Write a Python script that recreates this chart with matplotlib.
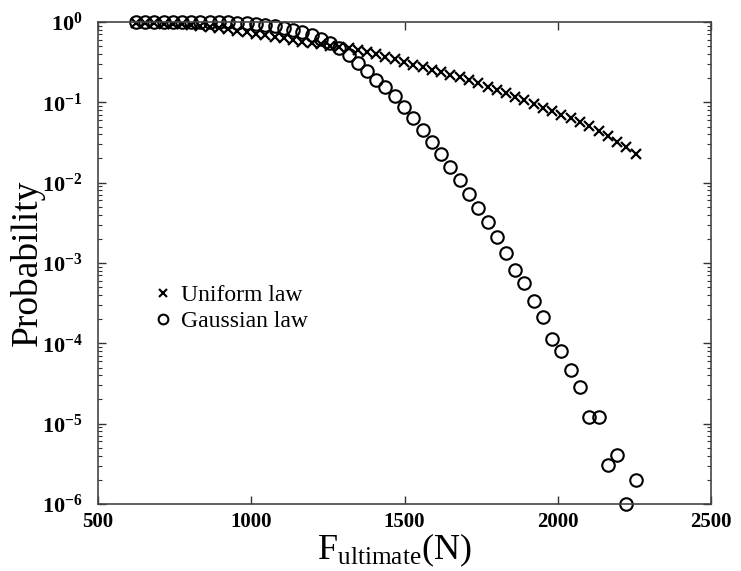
import numpy as np
import matplotlib
matplotlib.use("Agg")
import matplotlib.pyplot as plt
from matplotlib.lines import Line2D
from matplotlib.ticker import LogLocator, NullFormatter

plt.rcParams['font.family'] = ['Liberation Serif', 'DejaVu Serif']
plt.rcParams['mathtext.fontset'] = 'custom'
plt.rcParams['mathtext.rm'] = 'Liberation Serif'
plt.rcParams['mathtext.bf'] = 'Liberation Serif:bold'
plt.rcParams['mathtext.it'] = 'Liberation Serif:italic'

# ultimate force (N), common grid for both laws
force = [623, 653, 683, 714, 744, 774, 804, 834, 865, 895, 925, 955, 985,
         1016, 1046, 1076, 1106, 1136, 1167, 1197, 1227, 1257, 1287, 1318,
         1348, 1378, 1408, 1438, 1469, 1499, 1529, 1559, 1589, 1620, 1650,
         1680, 1710, 1740, 1771, 1801, 1831, 1861, 1891, 1922, 1952, 1982,
         2012, 2042, 2073, 2103, 2133, 2163, 2193, 2224, 2254]

p_uniform = [0.977, 0.973, 0.966, 0.955, 0.944, 0.933, 0.912, 0.891, 0.871,
             0.841, 0.813, 0.776, 0.741, 0.716, 0.684, 0.656, 0.631, 0.596,
             0.562, 0.543, 0.525, 0.507, 0.490, 0.473, 0.452, 0.422, 0.394,
             0.367, 0.343, 0.316, 0.295, 0.272, 0.254, 0.237, 0.221, 0.204,
             0.188, 0.172, 0.157, 0.141, 0.129, 0.117, 0.106, 0.0955, 0.0861,
             0.0776, 0.0700, 0.0631, 0.0562, 0.0501, 0.0437, 0.0380, 0.0324,
             0.0275, 0.0229]

p_gauss = [1.0, 1.0, 1.0, 1.0, 1.0, 1.0, 1.0, 1.0, 1.0, 0.99, 0.99, 0.98,
           0.97, 0.95, 0.92, 0.89, 0.85, 0.80, 0.75, 0.68, 0.62, 0.55, 0.47,
           0.39, 0.31, 0.245, 0.19, 0.155, 0.12, 0.087, 0.064, 0.045, 0.032,
           0.0227, 0.0156, 0.0108, 0.0072, 0.0048, 0.0032, 0.0021, 0.00132,
           0.00081, 0.00056, 0.00034, 2.1e-4, 1.12e-4, 8.0e-5, 4.6e-5,
           2.85e-5, 1.2e-5, 1.2e-5, 3.1e-6, 4.1e-6, 1.0e-6, 2.0e-6]

xticks = [500, 1000, 1500, 2000, 2500]
yexp = [0, -1, -2, -3, -4, -5, -6]

fig = plt.figure(figsize=(7.41, 5.71), dpi=100)
ax = fig.add_axes([98/741, 67/571, 613/741, 482/571])

ax.plot(force, p_uniform, 'x', color='k', ms=7.5, mew=1.6, clip_on=False)
ax.plot(force, p_gauss, 'o', mfc='none', mec='k', ms=9, mew=1.5, clip_on=False)

ax.set_yscale('log')
ax.set_xlim(500, 2500)
ax.set_ylim(1e-6, 1)

ax.set_xticks(xticks)
ax.set_xticklabels([str(v) for v in xticks], fontweight='bold', fontsize=15)
ax.set_yticks([10.0**e for e in yexp])
ax.set_yticklabels([r'$\mathbf{10^{%d}}$' % e for e in yexp], fontsize=16)
ax.yaxis.set_minor_locator(LogLocator(base=10, subs=np.arange(2, 10), numticks=20))
ax.yaxis.set_minor_formatter(NullFormatter())

ax.tick_params(which='both', direction='in', top=True, right=True, color='#333333')
ax.tick_params(which='major', length=6, width=1.0)
ax.tick_params(which='minor', length=3, width=0.8)
ax.tick_params(axis='x', pad=6)
ax.tick_params(axis='y', pad=11)
for s in ax.spines.values():
    s.set_color('#444444')
    s.set_linewidth(1.2)

ax.set_xlabel(r'$\mathrm{F_{ultimate}(N)}$', fontsize=26)
ax.xaxis.set_label_coords(0.483, -0.058, transform=ax.transAxes)
ax.xaxis.label.set_va('top')
ax.set_ylabel('Probability', fontsize=27)
ax.yaxis.set_label_coords(-0.087, 0.5, transform=ax.transAxes)

handles = [Line2D([], [], ls='none', marker='x', color='k', ms=5.5, mew=1.5),
           Line2D([], [], ls='none', marker='o', mfc='none', mec='k', ms=7, mew=1.5)]
ax.legend(handles, ['Uniform law', 'Gaussian law'], loc='upper left',
          bbox_to_anchor=(0.06, 0.5), frameon=False, fontsize=17,
          handlelength=0.6, handletextpad=0.45, labelspacing=0.2)

fig.savefig('out.png', dpi=100)
